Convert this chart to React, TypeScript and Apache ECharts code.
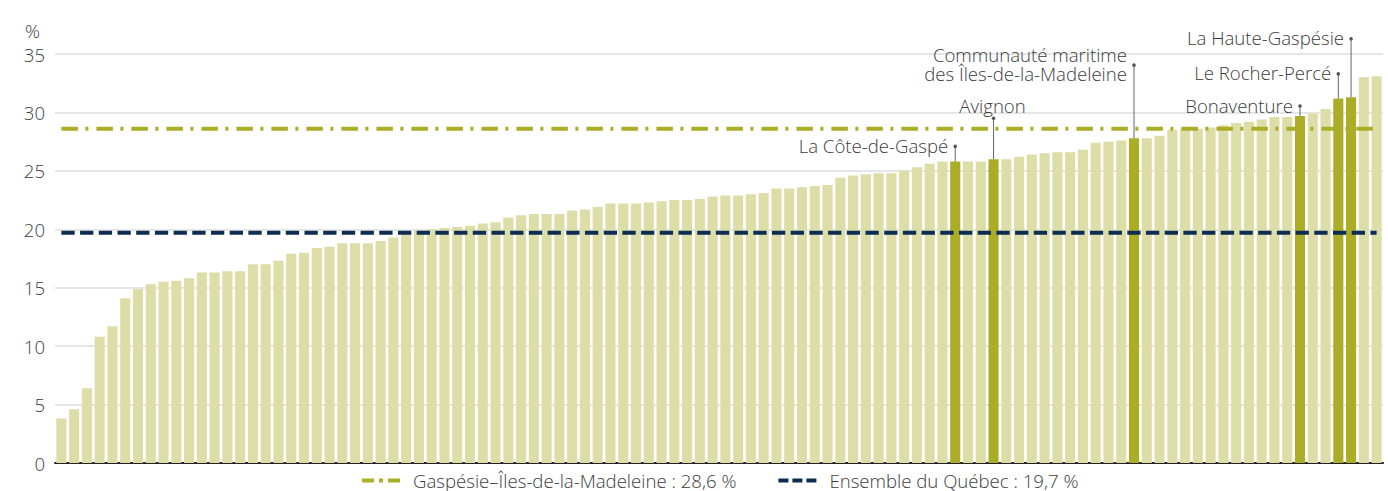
import React, { useEffect, useRef } from "react";
import * as echarts from "echarts";

// Share (%) per MRC, sorted ascending (104 territories)
const values: number[] = [
  3.8, 4.6, 6.4, 10.8, 11.7, 14.1, 14.9, 15.3, 15.5, 15.6,
  15.8, 16.3, 16.3, 16.4, 16.4, 17.0, 17.0, 17.3, 17.9, 18.0,
  18.4, 18.5, 18.8, 18.8, 18.8, 19.0, 19.3, 19.7, 19.9, 20.0,
  20.1, 20.2, 20.3, 20.5, 20.6, 21.0, 21.2, 21.3, 21.3, 21.3,
  21.6, 21.7, 21.9, 22.2, 22.2, 22.2, 22.3, 22.4, 22.5, 22.5,
  22.6, 22.8, 22.9, 22.9, 23.0, 23.1, 23.5, 23.5, 23.6, 23.7,
  23.8, 24.4, 24.6, 24.7, 24.8, 24.8, 25.0, 25.3, 25.6, 25.8,
  25.8, 25.8, 25.8, 26.0, 26.0, 26.2, 26.4, 26.5, 26.6, 26.6,
  26.8, 27.4, 27.5, 27.6, 27.8, 27.8, 28.0, 28.5, 28.6, 28.6,
  28.7, 28.9, 29.1, 29.2, 29.4, 29.6, 29.6, 29.7, 29.9, 30.3,
  31.2, 31.3, 33.0, 33.1,
];

const categories: string[] = values.map((_, i) => String(i + 1));

// Highlighted MRCs of Gaspésie–Îles-de-la-Madeleine
const highlightIndex: number[] = [70, 73, 84, 97, 100, 101];
const highlightNames: string[][] = [
  ["La Côte-de-Gaspé"],
  ["Avignon"],
  ["Communauté maritime", "des Îles-de-la-Madeleine"],
  ["Bonaventure"],
  ["Le Rocher-Percé"],
  ["La Haute-Gaspésie"],
];
// level (in % units) of the leader-line end point, and label side
const highlightLevel: number[] = [27.1, 29.5, 34.05, 30.55, 33.3, 36.3];
const highlightSide: string[] = ["left", "top", "left", "left", "left", "left"];

const regionAvg = 28.6;
const quebecAvg = 19.7;
const regionLabel = "Gaspésie–Îles-de-la-Madeleine : 28,6 %";
const quebecLabel = "Ensemble du Québec : 19,7 %";

const yTicks = { min: 0, max: 35, interval: 5 };

const FONT = "'Open Sans', 'Noto Sans', sans-serif";
const FW = 300;
const FS = 18.6;
const LIGHT = "#DDDDA8";
const DARK = "#ABAD27";
const NAVY = "#0D2C52";
const TEXT = "#3c3c3c";

export default function App() {
  const ref = useRef<HTMLDivElement>(null);

  useEffect(() => {
    document.body.style.margin = "0";
    if (!ref.current) return;
    const chart = echarts.init(ref.current, undefined, { renderer: "svg" });

    const barData = values.map((v, i) =>
      highlightIndex.includes(i)
        ? { value: v, itemStyle: { color: DARK } }
        : { value: v }
    );

    const annData = highlightIndex.map((idx, k) => [
      idx,
      values[idx],
      highlightLevel[k],
      k,
    ]);

    const textStyle = (text: string, align: string) => ({
      text,
      align,
      verticalAlign: "middle",
      fontSize: FS,
      fontWeight: FW,
      lineHeight: 19,
      fontFamily: FONT,
      fill: TEXT,
    });

    chart.setOption({
      animation: false,
      backgroundColor: "#ffffff",
      grid: { left: 55, right: 5, top: 54, bottom: 28, containLabel: false },
      graphic: [
        {
          type: "text",
          left: 25,
          top: 21,
          style: { text: "%", fontSize: FS, fontWeight: FW, fontFamily: FONT, fill: TEXT },
        },
      ],
      legend: {
        left: 355,
        top: 466,
        itemWidth: 38,
        itemHeight: 14,
        itemGap: 40,
        selectedMode: false,
        textStyle: {
          fontSize: FS,
          fontWeight: FW,
          fontFamily: FONT,
          color: TEXT,
          lineHeight: 19,
          padding: [0, 0, 0, 8],
        },
        data: [
          {
            name: regionLabel,
            itemStyle: { opacity: 0 },
            lineStyle: { type: [12, 5, 4, 5], width: 4 },
          },
          {
            name: quebecLabel,
            itemStyle: { opacity: 0 },
            lineStyle: { type: [10, 4], width: 4 },
          },
        ],
      },
      xAxis: {
        type: "category",
        data: categories,
        axisLabel: { show: false },
        axisTick: { show: false },
        axisLine: { lineStyle: { color: "#222", width: 2 } },
        splitLine: { show: false },
      },
      yAxis: {
        type: "value",
        min: yTicks.min,
        max: yTicks.max,
        interval: yTicks.interval,
        axisLine: { show: false },
        axisTick: { show: false },
        axisLabel: { fontSize: FS, fontWeight: FW, fontFamily: FONT, color: TEXT, margin: 10 },
        splitLine: { lineStyle: { color: "#dedede", width: 1.5 } },
      },
      series: [
        {
          type: "bar",
          data: barData,
          barCategoryGap: "21%",
          itemStyle: { color: LIGHT },
          z: 2,
        },
        {
          name: regionLabel,
          type: "line",
          data: categories.map(() => regionAvg),
          symbol: "none",
          lineStyle: { color: DARK, width: 4, type: [16.5, 7.5, 3, 8] },
          itemStyle: { color: DARK },
          z: 3,
        },
        {
          name: quebecLabel,
          type: "line",
          data: categories.map(() => quebecAvg),
          symbol: "none",
          lineStyle: { color: NAVY, width: 4, type: [13.3, 5.4] },
          itemStyle: { color: NAVY },
          z: 3,
        },
        {
          type: "custom",
          clip: false,
          z: 5,
          data: annData,
          encode: { x: 0, y: 1 },
          renderItem: (params: any, api: any) => {
            const idx = api.value(0);
            const v = api.value(1);
            const lvl = api.value(2);
            const k = api.value(3);
            const p0 = api.coord([idx, v]);
            const p1 = api.coord([idx, lvl]);
            const side = highlightSide[k];
            const lines = highlightNames[k];
            const texts: any[] = [];
            if (side === "top") {
              texts.push({
                type: "text",
                x: p1[0] - 1,
                y: p1[1] - 13,
                style: textStyle(lines[0], "center"),
              });
            } else {
              const n = lines.length;
              lines.forEach((t, j) => {
                texts.push({
                  type: "text",
                  x: p1[0] - 7,
                  y: p1[1] - 1 - (n - 1) * 9.5 + j * 19,
                  style: textStyle(t, "right"),
                });
              });
            }
            return {
              type: "group",
              children: [
                {
                  type: "line",
                  shape: { x1: p1[0], y1: p1[1], x2: p0[0], y2: p0[1] },
                  style: { stroke: "#666", lineWidth: 1 },
                },
                {
                  type: "circle",
                  shape: { cx: p1[0], cy: p1[1], r: 1.8 },
                  style: { fill: "#555" },
                },
                ...texts,
              ],
            };
          },
        },
      ],
    });

    return () => chart.dispose();
  }, []);

  return <div ref={ref} style={{ width: 1388, height: 491 }} />;
}
